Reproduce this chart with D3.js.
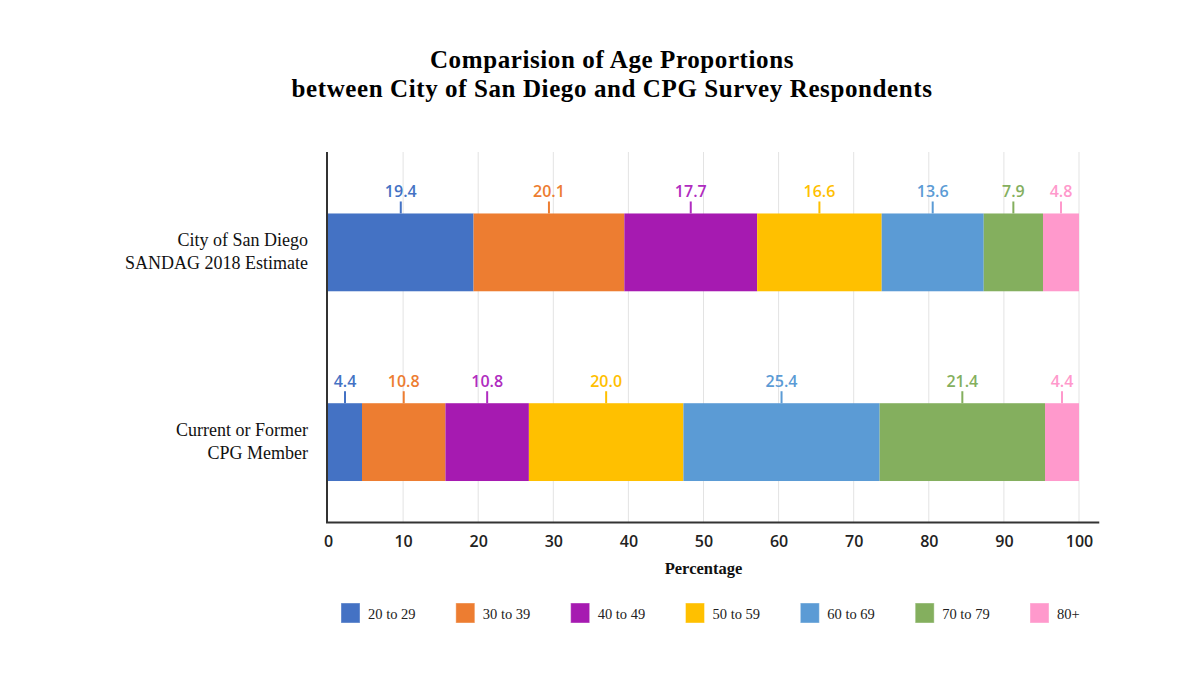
<!DOCTYPE html>
<html>
<head>
<meta charset="utf-8">
<script src="https://cdn.jsdelivr.net/npm/d3@7"></script>
<style>
  html, body { margin: 0; padding: 0; background: #ffffff; }
  svg { display: block; }
</style>
</head>
<body>
<svg id="chart" width="1200" height="675"></svg>
<script>
// ---- data ----
const titleLines = ["Comparision of Age Proportions", "between City of San Diego and CPG Survey Respondents"];
const categories = ["City of San Diego|SANDAG 2018 Estimate", "Current or Former|CPG Member"];
const ageGroups = ["20 to 29", "30 to 39", "40 to 49", "50 to 59", "60 to 69", "70 to 79", "80+"];
const cityValues = [19.4, 20.1, 17.7, 16.6, 13.6, 7.9, 4.8];
const cpgValues = [4.4, 10.8, 10.8, 20.0, 25.4, 21.4, 4.4];
const xTicks = [0, 10, 20, 30, 40, 50, 60, 70, 80, 90, 100];
const xAxisTitle = "Percentage";
const colors = ["#4472C4", "#ED7D31", "#A61AB1", "#FFC000", "#5B9BD5", "#84AF5E", "#FF99CC"];
const labelColors = ["#4472C4", "#ED7D31", "#B02CC0", "#FFC000", "#5B9BD5", "#84AF5E", "#FF99CC"];

// ---- build table ----
const seriesValues = [cityValues, cpgValues];
const table = categories.map((c, i) => {
  const row = { category: c };
  ageGroups.forEach((g, j) => { row[g] = seriesValues[i][j]; });
  return row;
});

const svg = d3.select("#chart");

const x = d3.scaleLinear().domain([0, 100]).range([328, 1079]);
const y = d3.scaleBand().domain(categories).range([152, 522])
  .paddingInner(0.59).paddingOuter(0.27).align(0.6);
const color = d3.scaleOrdinal().domain(ageGroups).range(colors);
const labelColor = d3.scaleOrdinal().domain(ageGroups).range(labelColors);

const stack = d3.stack().keys(ageGroups).offset(d3.stackOffsetExpand);
const stacked = stack(table);

// gridlines
svg.append("g").selectAll("line")
  .data(xTicks.filter(t => t > 0))
  .join("line")
  .attr("x1", d => x(d)).attr("x2", d => x(d))
  .attr("y1", 152).attr("y2", 522)
  .attr("stroke", "#e3e3e3").attr("stroke-width", 1);

// bars
const layers = svg.append("g").selectAll("g")
  .data(stacked)
  .join("g")
  .attr("fill", d => color(d.key));

layers.selectAll("rect")
  .data(d => d.map(p => ({ p, key: d.key })))
  .join("rect")
  .attr("x", d => x(d.p[0] * 100))
  .attr("width", d => x(d.p[1] * 100) - x(d.p[0] * 100))
  .attr("y", d => y(d.p.data.category))
  .attr("height", y.bandwidth());

// value labels with leader ticks
const labelG = svg.append("g");
stacked.forEach(layer => {
  layer.forEach(p => {
    const cx = (x(p[0] * 100) + x(p[1] * 100)) / 2;
    const top = y(p.data.category);
    labelG.append("line")
      .attr("x1", cx).attr("x2", cx)
      .attr("y1", top - 12).attr("y2", top)
      .attr("stroke", labelColor(layer.key)).attr("stroke-width", 2);
    labelG.append("text")
      .attr("x", cx).attr("y", top - 16)
      .attr("text-anchor", "middle")
      .attr("font-family", "'Open Sans', 'Noto Sans', sans-serif")
      .attr("font-weight", 600)
      .attr("font-size", 16)
      .attr("fill", labelColor(layer.key))
      .text(p.data[layer.key].toFixed(1));
  });
});

// y axis line
svg.append("line")
  .attr("x1", 327).attr("x2", 327)
  .attr("y1", 152).attr("y2", 523)
  .attr("stroke", "#333").attr("stroke-width", 2);

// x axis
const xAxis = svg.append("g")
  .attr("transform", "translate(0,522)")
  .call(d3.axisBottom(x).tickValues(xTicks).tickSize(0).tickPadding(14).tickFormat(d3.format("d")));
xAxis.select(".domain").remove();
xAxis.selectAll("text")
  .attr("font-family", "'Open Sans', 'Noto Sans', sans-serif")
  .attr("font-weight", 600)
  .attr("font-size", 16)
  .attr("fill", "#222");
svg.append("line")
  .attr("x1", 326).attr("x2", x(102.7))
  .attr("y1", 522.5).attr("y2", 522.5)
  .attr("stroke", "#333").attr("stroke-width", 2);

// x axis title
svg.append("text")
  .attr("x", (x(0) + x(100)) / 2).attr("y", 574)
  .attr("text-anchor", "middle")
  .attr("font-family", "'Liberation Serif', serif")
  .attr("font-weight", "bold")
  .attr("font-size", 16.5)
  .attr("fill", "#111")
  .text(xAxisTitle);

// category labels
const catG = svg.append("g");
categories.forEach(c => {
  const lines = c.split("|");
  const cy = y(c) + y.bandwidth() / 2;
  const t = catG.append("text")
    .attr("x", 308)
    .attr("text-anchor", "end")
    .attr("font-family", "'Liberation Serif', serif")
    .attr("font-size", 18)
    .attr("fill", "#111");
  lines.forEach((ln, i) => {
    t.append("tspan").attr("x", 308).attr("y", cy - 6 + i * 22.5).text(ln);
  });
});

// title
titleLines.forEach((ln, i) => {
  svg.append("text")
    .attr("x", 612).attr("y", 68 + i * 28.5)
    .attr("text-anchor", "middle")
    .attr("font-family", "'Liberation Serif', serif")
    .attr("font-weight", "bold")
    .attr("font-size", 25)
    .attr("letter-spacing", 0.6)
    .attr("fill", "#000")
    .text(ln);
});

// legend
const lx = d3.scalePoint().domain(ageGroups).range([341, 1030]);
const legend = svg.append("g").selectAll("g")
  .data(ageGroups)
  .join("g")
  .attr("transform", d => `translate(${lx(d)},603)`);
legend.append("rect")
  .attr("width", 19).attr("height", 20)
  .attr("fill", d => color(d))
  .attr("stroke", "#ffffff").attr("stroke-opacity", 0.4);
legend.append("text")
  .attr("x", 27).attr("y", 16)
  .attr("font-family", "'Liberation Serif', serif")
  .attr("font-size", 14.5)
  .attr("fill", "#222")
  .text(d => d);
</script>
</body>
</html>
